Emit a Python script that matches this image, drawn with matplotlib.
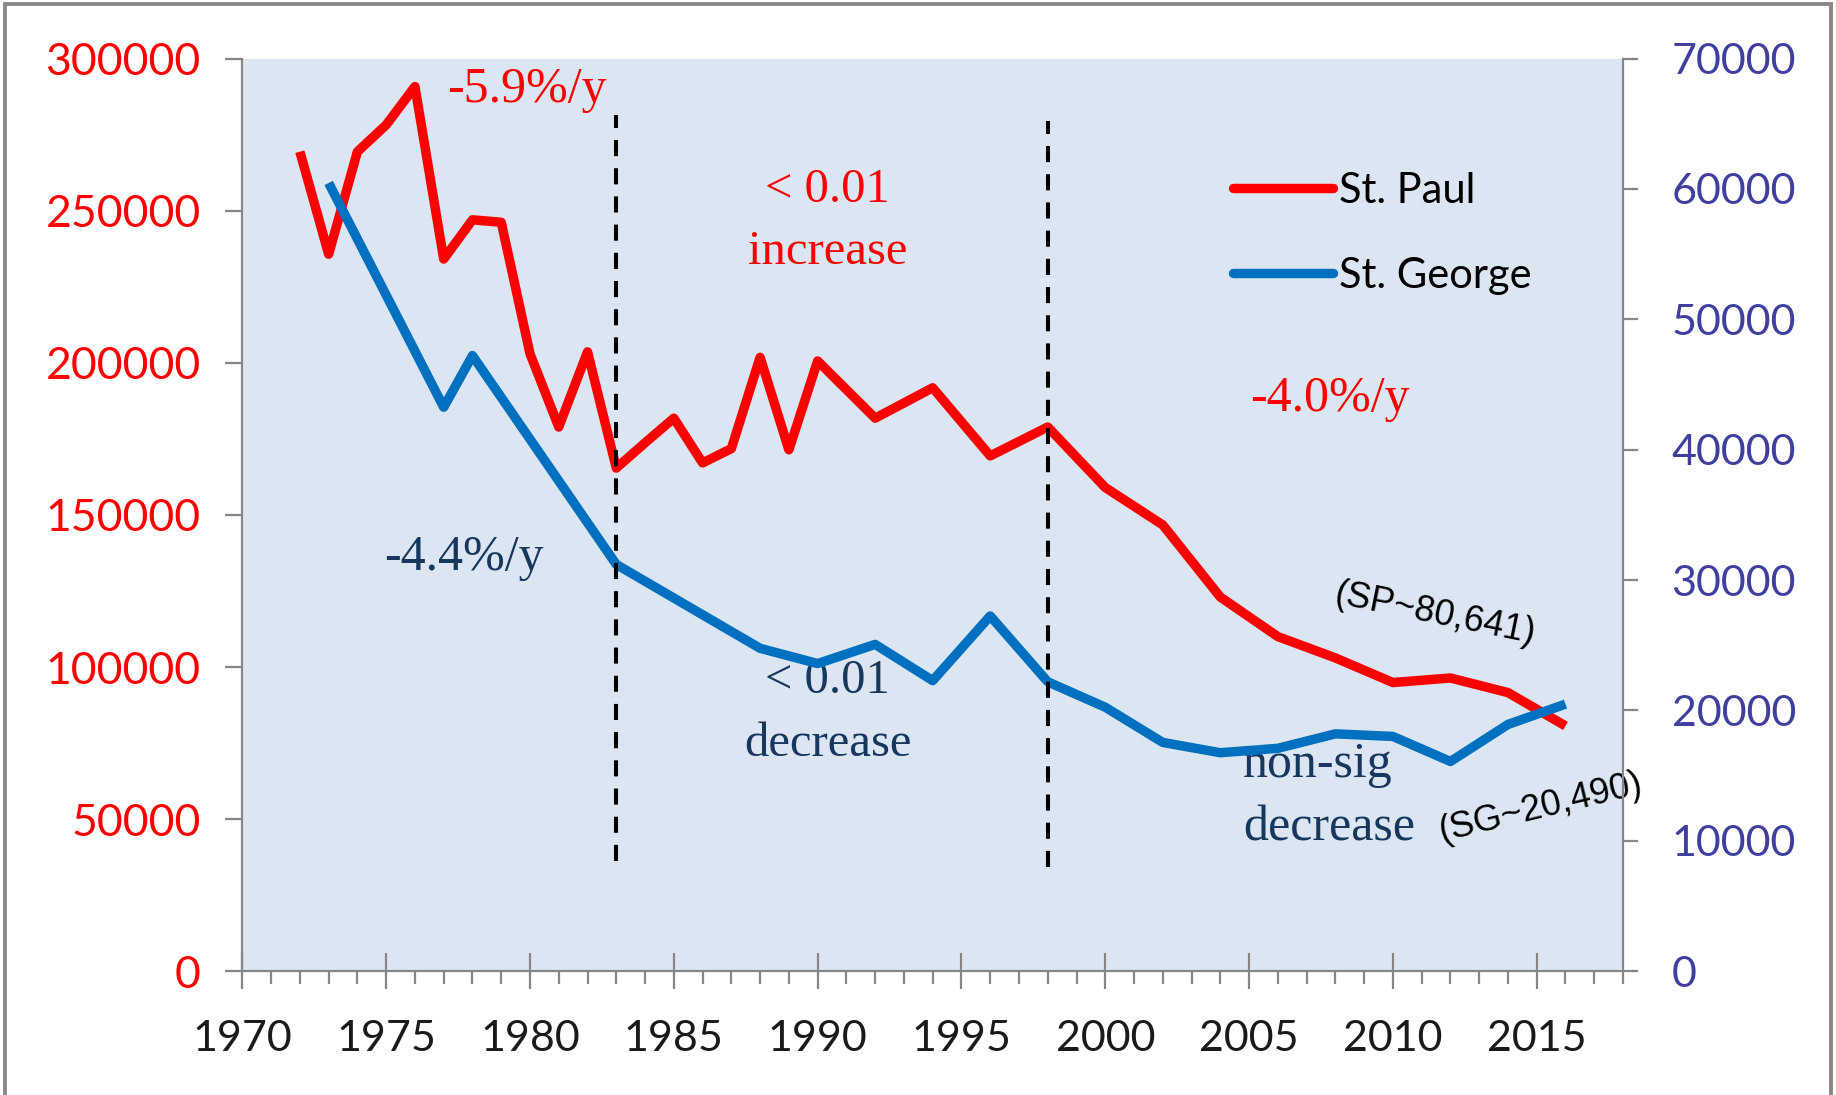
import matplotlib.pyplot as plt
from matplotlib.lines import Line2D
from matplotlib.patches import Rectangle

# St. Paul (left axis) and St. George (right axis) counts
sp_years = [1972, 1973, 1974, 1975, 1976, 1977, 1978, 1979, 1980, 1981, 1982,
            1983, 1984, 1985, 1986, 1987, 1988, 1989, 1990, 1992, 1994, 1996,
            1998, 2000, 2002, 2004, 2006, 2008, 2010, 2012, 2014, 2016]
sp_values = [269400, 235700, 269400, 278200, 290800, 234100, 247000, 246200,
             203000, 178900, 203600, 165400, 173700, 181800, 167100, 171800,
             201800, 171400, 200600, 181800, 191800, 169400, 178900, 159000,
             146700, 123000, 110000, 103000, 94900, 96400, 91600, 80641]

sg_years = [1973, 1977, 1978, 1983, 1988, 1990, 1992, 1994, 1996, 1998, 2000,
            2002, 2004, 2006, 2008, 2010, 2012, 2014, 2016]
sg_values = [60460, 43260, 47220, 31200, 24770, 23600, 25070, 22290, 27250,
             22200, 20250, 17550, 16760, 17100, 18210, 18010, 16090, 18930, 20490]

breaks = [1983, 1998]
break_ymin = [0.121, 0.114]
break_ymax = [0.938, 0.932]

red = '#FF0000'
blue = '#0070C0'
navy = '#17375E'
purple = '#3F3F9F'
grey = '#868686'
serif = 'Liberation Serif'

plt.rcParams['font.family'] = ['Lato', 'DejaVu Sans']

fig = plt.figure(figsize=(18.36, 10.95), dpi=100)
ax = fig.add_axes([0.132, 0.113, 0.752, 0.8335])
ax2 = ax.twinx()

ax.set_facecolor('#DCE6F2')
ax.plot(sp_years, sp_values, color=red, lw=6.8, solid_joinstyle='round',
        solid_capstyle='butt', zorder=3)
ax2.plot(sg_years, sg_values, color=blue, lw=6.8, solid_joinstyle='round',
         solid_capstyle='butt', zorder=3)

ax.set_xlim(1970, 2018)
ax.set_ylim(0, 300000)
ax2.set_ylim(0, 70000)
ax.set_xticks(range(1970, 2016, 5))
ax.set_xticks(range(1970, 2019), minor=True)
ax.set_yticks(range(0, 300001, 50000))
ax2.set_yticks(range(0, 70001, 10000))

for a in (ax, ax2):
    a.spines['top'].set_visible(False)
    for s in a.spines.values():
        s.set_color(grey)
        s.set_linewidth(1.6)
ax.spines['right'].set_visible(False)
ax2.spines['left'].set_visible(False)
ax2.spines['bottom'].set_visible(False)

ax.tick_params(axis='x', which='major', direction='inout', length=26, width=1.6,
               color=grey, labelsize=31, pad=22, labelcolor='#1a1a1a')
ax.tick_params(axis='x', which='minor', direction='out', length=9, width=1.6,
               color=grey)
ax.tick_params(axis='y', direction='out', length=12, width=1.6, color=grey,
               labelsize=32, pad=18, labelcolor=red)
ax2.tick_params(axis='y', direction='out', length=11, width=1.6, color=grey,
                labelsize=31, pad=24, labelcolor=purple)

for x, lo, hi in zip(breaks, break_ymin, break_ymax):
    ax2.axvline(x, lo, hi, color='black', lw=2.9, linestyle=(0, (4.0, 3.0)), zorder=5)

# annotations (left-axis units)
ax.text(1979.9, 285700, '-5.9%/y', color=red, family=serif, fontsize=36,
        ha='center', va='baseline')
ax.text(1990.35, 252800, '< 0.01', color=red, family=serif, fontsize=35,
        ha='center', va='baseline')
ax.text(1990.35, 232400, 'increase', color=red, family=serif, fontsize=35,
        ha='center', va='baseline')
ax.text(2007.8, 184200, '-4.0%/y', color=red, family=serif, fontsize=36,
        ha='center', va='baseline')
ax.text(1977.7, 131800, '-4.4%/y', color=navy, family=serif, fontsize=36,
        ha='center', va='baseline')
ax.text(1990.35, 91350, '< 0.01', color=navy, family=serif, fontsize=35,
        ha='center', va='baseline')
ax.text(1990.35, 70600, 'decrease', color=navy, family=serif, fontsize=35,
        ha='center', va='baseline')
ax.text(2004.8, 64000, 'non-sig', color=navy, family=serif, fontsize=36,
        ha='left', va='baseline')
ax.text(2004.8, 43100, 'decrease', color=navy, family=serif, fontsize=36,
        ha='left', va='baseline')
ax.text(2011.47, 117300, '(SP~80,641)', color='black', family='Liberation Sans',
        fontsize=26, ha='center', va='center', rotation=-11.5,
        rotation_mode='anchor')
ax.text(2015.14, 53700, '(SG~20,490)', color='black', family='Liberation Sans',
        fontsize=26, ha='center', va='center', rotation=13.5,
        rotation_mode='anchor')

handles = [Line2D([], [], color=red, lw=6.8, solid_capstyle='round'),
           Line2D([], [], color=blue, lw=6.8, solid_capstyle='round')]
fig.legend(handles, ['St. Paul', 'St. George'], loc='upper left',
           bbox_to_anchor=(0.6716, 0.843), frameon=False, fontsize=30,
           handlelength=2.4, handletextpad=0.15, labelspacing=1.13,
           borderpad=0, borderaxespad=0)

fig.patches.append(Rectangle((5 / 1836, -0.02), 1826 / 1836, 1.0163,
                             transform=fig.transFigure, fill=False,
                             edgecolor='#888888', lw=2.8))

fig.savefig('out.png', dpi=100)
